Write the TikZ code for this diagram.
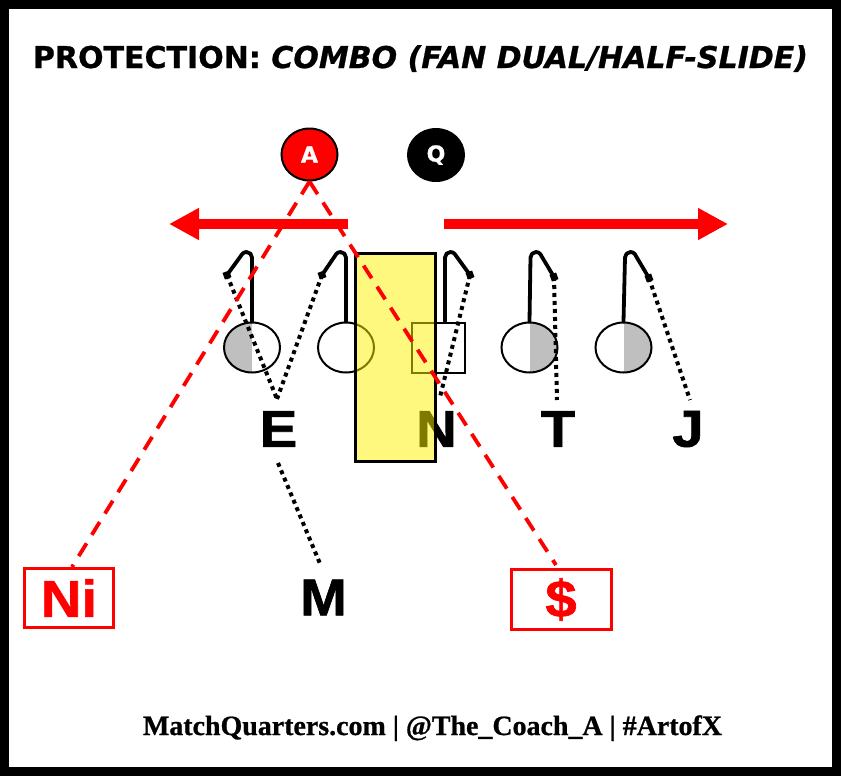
\documentclass[tikz,border=0pt]{standalone}
\usepackage{fontspec}
\setmainfont{Liberation Sans}
\newfontfamily\titlefont{DejaVu Sans}[BoldFeatures={FakeBold=0.8},BoldItalicFeatures={FakeBold=0.8}]
\newfontfamily\heavyfont{Liberation Sans}[BoldFeatures={FakeBold=1.2}]
\newfontfamily\footfont{Liberation Serif}[BoldFeatures={FakeBold=0.8}]
\usetikzlibrary{arrows.meta,shapes.geometric}
\definecolor{lgray}{RGB}{191,191,191}
\newcommand{\biglbl}[1]{\scalebox{1.08}[1]{#1}}
\begin{document}
\begin{tikzpicture}[x=1pt,y=-1pt,
  player/.style={ellipse,draw=black,line width=2pt,fill=white,minimum width=56pt,minimum height=50pt,inner sep=0pt},
  lefthalf/.style={path picture={\fill[lgray] (path picture bounding box.north west) rectangle (path picture bounding box.south);}},
  righthalf/.style={path picture={\fill[lgray] (path picture bounding box.north) rectangle (path picture bounding box.south east);}},
  hookend/.style={fill=black,minimum size=7pt,inner sep=0pt,rotate=20},
  hookline/.style={line width=3.8pt,line cap=round,line join=round},
  dotline/.style={line width=4pt,dash pattern=on 4pt off 4pt},
  lbl/.style={inner sep=0pt,font=\heavyfont\fontsize{52pt}{52pt}\selectfont\bfseries},
  redbox/.style={draw=red,line width=3pt,text=red,minimum width=89pt,minimum height=59pt,inner sep=0pt,font=\heavyfont\fontsize{52pt}{52pt}\selectfont\bfseries},
  reddash/.style={red,line width=3.8pt,dash pattern=on 15pt off 10pt},
  bigarrow/.style={red,line width=10pt,-{Triangle[length=30pt,width=30pt]}},
  disc/.style={ellipse,draw=black,line width=2pt,minimum width=56pt,minimum height=52pt,inner sep=0pt,text=white,font=\titlefont\bfseries\fontsize{22pt}{22pt}\selectfont}
]
\useasboundingbox (0,0) rectangle (841,777);
\fill[white] (0,0) rectangle (841,777);
\draw[line width=9pt] (4.5,4.5) rectangle (836.5,771.5);

% title
\node[anchor=base,inner sep=0pt] (title) at (420.5,68) {\resizebox{775pt}{!}{\titlefont\bfseries PROTECTION: \itshape COMBO (FAN DUAL/HALF-SLIDE)}};

% backs
\node[disc,fill=red] (A) at (309.5,154.5) {A};
\node[disc,fill=black] (Q) at (436,155) {Q};

% slide arrows
\coordinate (la1) at (348,224);
\coordinate (la2) at (169,224);
\coordinate (ra1) at (444,224);
\coordinate (ra2) at (728,224);
\draw[bigarrow] (la1) -- (la2);
\draw[bigarrow] (ra1) -- (ra2);

% offensive line
\node[player,lefthalf] (L1) at (252,347.5) {};
\node[player] (L2) at (346,347.5) {};
\node[draw=black,line width=2pt,fill=white,minimum width=53pt,minimum height=50pt,inner sep=0pt] (C) at (438,347.5) {};
\node[player,righthalf] (R1) at (529.5,347.5) {};
\node[player,righthalf] (R2) at (623.5,347.5) {};

% hook ends
\node[hookend] (s1) at (227,275) {};
\node[hookend] (s2) at (322,275) {};
\node[hookend] (s3) at (470,275) {};
\node[hookend] (s4) at (554,277) {};
\node[hookend] (s5) at (649,278) {};

\draw[hookline] (L1.north) -- ++(0,-64) arc[start angle=0,end angle=140,radius=5.5pt] -- (s1.center);
\draw[hookline] (L2.north) -- ++(0,-64) arc[start angle=0,end angle=140,radius=5.5pt] -- (s2.center);
\draw[hookline] ([xshift=7pt]C.north) -- ++(0,-64) arc[start angle=180,end angle=40,radius=5.5pt] -- (s3.center);
\draw[hookline] (R1.north) -- ++(1,-64) arc[start angle=180,end angle=40,radius=5.5pt] -- (s4.center);
\draw[hookline] (R2.north) -- ++(1.5,-64) arc[start angle=180,end angle=40,radius=5.5pt] -- (s5.center);

% defenders
\node[lbl] (E) at (278.5,429) {\biglbl{E}};
\node[lbl] (N) at (436.5,429) {\biglbl{N}};
\node[lbl] (T) at (558,429) {\biglbl{T}};
\node[lbl] (J) at (688,429) {\biglbl{J}};
\node[lbl] (M) at (323.5,597.5) {\biglbl{M}};

\coordinate (etop) at (277,399);
\coordinate (ntop) at (440,397);
\coordinate (ttop) at (557,400);
\coordinate (jtop) at (690,400);
\coordinate (ebot) at (278,463);
\coordinate (mtop) at (321,566);

\draw[dotline] (s1.center) -- (etop);
\draw[dotline] (s2.center) -- (etop);
\draw[dotline] (s3.center) -- (ntop);
\draw[dotline] (s4.center) -- (ttop);
\draw[dotline] (s5.center) -- (jtop);
\draw[dotline] (ebot) -- (mtop);

% highlighted gap
\node[draw=black,line width=3pt,fill=yellow,fill opacity=0.5,minimum width=80pt,minimum height=208pt,inner sep=0pt] (Y) at (395.5,357.5) {};

% secondary
\node[redbox] (Ni) at (69,598) {\biglbl{Ni}};
\node[redbox,minimum width=100pt,minimum height=60pt] (S) at (561,599.5) {\biglbl{\$}};

\coordinate (nitop) at (72,0 |- Ni.north);
\coordinate (stop) at (556,565);
\draw[reddash] (A.south) -- (nitop);
\draw[reddash] (A.south) -- (stop);

% footer
\node[anchor=base,inner sep=0pt] (foot) at (432.5,735) {\resizebox{579pt}{!}{\footfont\bfseries MatchQuarters.com | @The\_Coach\_A | \#ArtofX}};
\end{tikzpicture}
\end{document}
